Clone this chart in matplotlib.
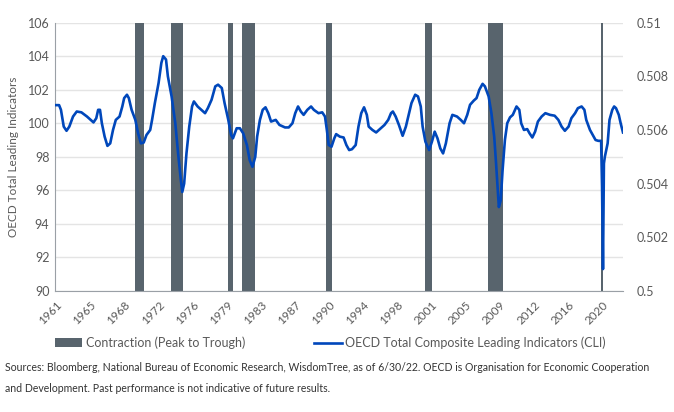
import matplotlib
matplotlib.use("Agg")
import matplotlib.pyplot as plt
from matplotlib.patches import Patch
from matplotlib.lines import Line2D

# OECD total composite leading indicator (decimal year, index)
cli_years = [1961.4, 1961.8, 1962.0, 1962.3, 1962.6, 1962.9, 1963.3, 1963.7, 1964.2, 1964.8,
             1965.2, 1965.5, 1965.8, 1966.0, 1966.2, 1966.4, 1966.7, 1967.0, 1967.3, 1967.6,
             1967.9, 1968.3, 1968.6, 1968.8, 1969.1, 1969.3, 1969.6, 1970.0, 1970.3, 1970.6,
             1970.9, 1971.2, 1971.6, 1971.8, 1972.1, 1972.5, 1972.8, 1973.0, 1973.3, 1973.5,
             1973.9, 1974.3, 1974.6, 1974.9, 1975.05, 1975.25, 1975.5, 1975.8, 1976.1, 1976.3,
             1976.7, 1977.1, 1977.5, 1977.8, 1978.2, 1978.6, 1978.9, 1979.3, 1979.6, 1980.0,
             1980.3, 1980.5, 1980.9, 1981.25, 1981.6, 1982.0, 1982.3, 1982.6, 1982.9, 1983.1,
             1983.4, 1983.7, 1984.0, 1984.3, 1984.6, 1985.1, 1985.5, 1986.1, 1986.5, 1986.9,
             1987.2, 1987.5, 1987.8, 1988.1, 1988.5, 1988.9, 1989.2, 1989.7, 1990.1, 1990.4,
             1990.6, 1990.8, 1991.1, 1991.4, 1991.6, 1992.0, 1992.4, 1992.7, 1993.0, 1993.3,
             1993.7, 1994.0, 1994.3, 1994.6, 1994.9, 1995.1, 1995.5, 1995.9, 1996.4, 1996.8,
             1997.2, 1997.5, 1997.7, 1998.0, 1998.35, 1998.75, 1999.1, 1999.4, 1999.7, 2000.1,
             2000.4, 2000.7, 2000.9, 2001.2, 2001.6, 2001.9, 2002.2, 2002.5, 2002.8, 2003.1,
             2003.4, 2003.8, 2004.1, 2004.6, 2005.0, 2005.35, 2005.7, 2006.0, 2006.4, 2006.7,
             2007.0, 2007.35, 2007.6, 2008.0, 2008.3, 2008.6, 2008.8, 2009.0, 2009.1, 2009.3,
             2009.5, 2009.75, 2010.0, 2010.3, 2010.6, 2011.0, 2011.3, 2011.5, 2011.8, 2012.15,
             2012.4, 2012.7, 2013.0, 2013.3, 2013.7, 2014.1, 2014.6, 2015.1, 2015.5, 2015.85,
             2016.2, 2016.6, 2016.9, 2017.3, 2017.6, 2018.0, 2018.3, 2018.5, 2018.9, 2019.2,
             2019.5, 2019.8, 2020.1, 2020.2, 2020.3, 2020.4, 2020.5, 2020.8, 2021.0, 2021.3,
             2021.5, 2021.7, 2022.0, 2022.2, 2022.45]
cli_values = [101.08, 101.08, 100.8, 99.8, 99.55, 99.8, 100.4, 100.7, 100.65, 100.4,
              100.2, 100.05, 100.3, 100.8, 100.8, 100.0, 99.2, 98.65, 98.8, 99.6,
              100.2, 100.4, 101.0, 101.5, 101.7, 101.5, 100.8, 100.2, 99.4, 98.8,
              98.85, 99.3, 99.6, 100.2, 101.2, 102.4, 103.6, 104.0, 103.8, 102.8,
              101.6, 100.0, 98.2, 96.6, 95.9, 96.4, 98.2, 99.8, 101.0, 101.3,
              101.0, 100.8, 100.6, 100.9, 101.4, 102.2, 102.3, 102.1, 101.2, 100.2,
              99.3, 99.1, 99.7, 99.7, 99.4, 98.7, 97.8, 97.4, 98.0, 99.2,
              100.2, 100.8, 100.95, 100.6, 100.1, 100.2, 99.9, 99.75, 99.75, 100.0,
              100.6, 101.0, 100.7, 100.5, 100.8, 101.0, 100.8, 100.6, 100.65, 100.4,
              99.6, 98.7, 98.6, 99.1, 99.35, 99.2, 99.15, 98.7, 98.4, 98.45,
              98.7, 99.8, 100.6, 100.95, 100.5, 99.8, 99.6, 99.45, 99.7, 99.9,
              100.2, 100.6, 100.7, 100.4, 99.9, 99.25, 99.8, 100.5, 101.2, 101.7,
              101.6, 101.0, 99.8, 98.9, 98.4, 98.9, 99.5, 99.1, 98.5, 98.2,
              98.8, 100.0, 100.5, 100.4, 100.2, 100.0, 100.5, 101.1, 101.35, 101.5,
              102.0, 102.35, 102.2, 101.6, 100.6, 99.2, 97.6, 95.8, 95.0, 95.4,
              97.2, 99.0, 100.0, 100.35, 100.5, 101.0, 100.8, 100.0, 99.6, 99.65,
              99.4, 99.15, 99.5, 100.1, 100.4, 100.6, 100.5, 100.45, 100.2, 99.8,
              99.55, 99.8, 100.3, 100.6, 100.9, 101.0, 100.8, 100.2, 99.6, 99.3,
              99.0, 98.95, 98.95, 96.2, 91.3, 97.6, 98.0, 98.8, 100.2, 100.8,
              101.0, 100.9, 100.5, 100.0, 99.45]

# NBER contractions (peak to trough)
rec_start = [1969.92, 1973.83, 1980.0, 1981.5, 1990.5, 2001.2, 2007.92, 2020.1]
rec_end = [1970.9, 1975.17, 1980.55, 1982.9, 1991.2, 2001.9, 2009.5, 2020.25]

tick_labels = ['1961', '1965', '1968', '1972', '1976', '1979', '1983', '1987', '1990',
               '1994', '1998', '2001', '2005', '2009', '2012', '2016', '2020']

gray_text = '#595959'
bar_color = '#58646d'
line_color = '#0047bb'

plt.rcParams['font.family'] = ['Lato', 'DejaVu Sans']

fig = plt.figure(figsize=(6.74, 4.12), dpi=100)
ax = fig.add_axes([0.0816, 0.294, 0.8427, 0.651])

for s, e in zip(rec_start, rec_end):
    ax.axvspan(s, e, color=bar_color, lw=0, zorder=2)

ax.plot(cli_years, cli_values, color=line_color, lw=1.9, zorder=3)

ax.set_xlim(1961.36, 2022.45)
ax.set_ylim(90, 106)
ax.set_yticks(range(90, 107, 2))
ax.grid(axis='y', color='#e4e4e4', lw=1.0, zorder=0)
ax.set_axisbelow(True)

tick_pos = [1961.5 + 3.67 * i for i in range(len(tick_labels))]
ax.set_xticks(tick_pos)
ax.set_xticklabels(tick_labels, rotation=45, ha='right', rotation_mode='anchor')
ax.tick_params(axis='x', length=0, pad=6, labelsize=8.5, labelcolor=gray_text)
ax.tick_params(axis='y', length=0, pad=4, labelsize=9, labelcolor=gray_text)
ax.set_ylabel('OECD Total Leading Indicators', color=gray_text, fontsize=8.5, labelpad=6)

for side in ['top', 'right']:
    ax.spines[side].set_visible(False)
ax.spines['left'].set_color('#9aa0a6')
ax.spines['bottom'].set_color('#9aa0a6')

ax2 = ax.twinx()
ax2.set_ylim(0.5, 0.51)
ax2.set_yticks([0.5, 0.502, 0.504, 0.506, 0.508, 0.51])
ax2.set_yticklabels(['0.5', '0.502', '0.504', '0.506', '0.508', '0.51'])
ax2.tick_params(axis='y', length=0, pad=10, labelsize=9, labelcolor=gray_text)
for side in ['top', 'right', 'left', 'bottom']:
    ax2.spines[side].set_visible(False)

handles = [Patch(facecolor=bar_color, edgecolor='none'),
           Line2D([0], [0], color=line_color, lw=1.9)]
fig.legend(handles, ['Contraction (Peak to Trough)', 'OECD Total Composite Leading Indicators (CLI)'],
           loc='center', bbox_to_anchor=(0.49, 0.168), ncol=2, frameon=False,
           fontsize=9, labelcolor=gray_text, columnspacing=5.5, handlelength=2.2,
           handletextpad=0.3)

fig.text(0.008, 0.108, 'Sources: Bloomberg, National Bureau of Economic Research, WisdomTree, as of 6/30/22. '
         'OECD is Organisation for Economic Cooperation', fontsize=7.6, color='#333333', va='center')
fig.text(0.008, 0.057, 'and Development. Past performance is not indicative of future results.',
         fontsize=7.6, color='#333333', va='center')

fig.savefig('out.png', dpi=100)
